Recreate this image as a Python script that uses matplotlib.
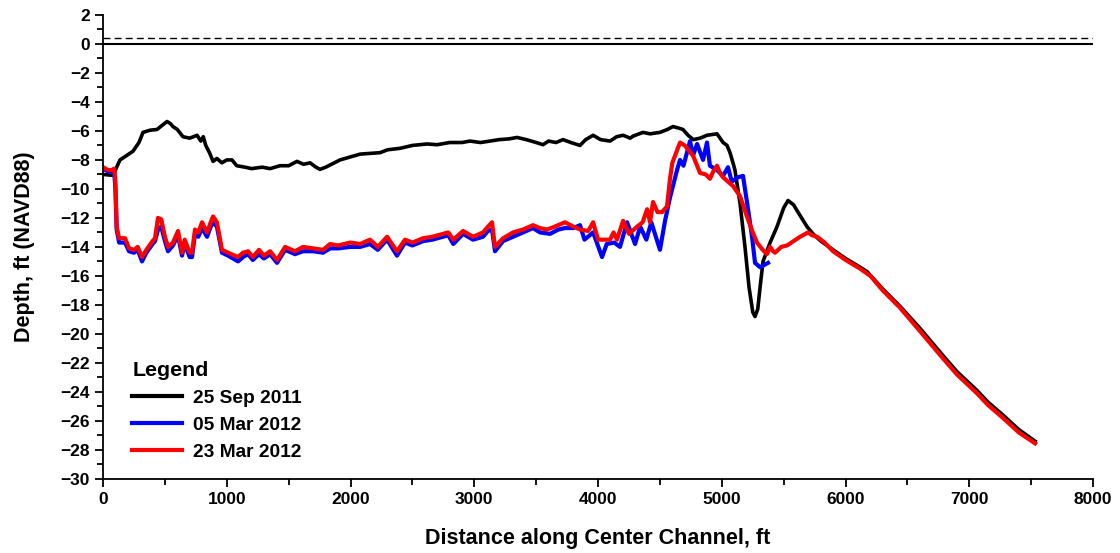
import matplotlib
matplotlib.use("Agg")
import matplotlib.pyplot as plt
from matplotlib.ticker import MultipleLocator

plt.rcParams['font.family'] = ['Liberation Sans', 'DejaVu Sans']
plt.rcParams['font.weight'] = 'bold'

# survey profiles along the center channel (distance ft, depth ft NAVD88)
sep2011_x = [0, 60, 81, 110, 137, 190, 242, 290, 323, 380, 436, 480, 517, 545, 565, 600,
             646, 700, 760, 790, 810, 830, 860, 889, 920, 960, 1000, 1042, 1080, 1147,
             1200, 1285, 1350, 1430, 1500, 1567, 1620, 1673, 1720, 1753, 1800, 1915,
             1996, 2077, 2157, 2238, 2300, 2400, 2500, 2618, 2700, 2800, 2900, 2965,
             3050, 3127, 3200, 3280, 3345, 3420, 3500, 3555, 3600, 3660, 3717, 3780,
             3854, 3900, 3960, 4020, 4097, 4150, 4202, 4260, 4282, 4363, 4420, 4500,
             4560, 4605, 4650, 4686, 4727, 4770, 4824, 4880, 4961, 5010, 5042, 5066,
             5090, 5106, 5147, 5187, 5220, 5250, 5268, 5290, 5310, 5333, 5390, 5446,
             5500, 5535, 5580, 5608, 5688, 5737, 5800, 5899, 6000, 6117, 6173, 6300,
             6440, 6600, 6788, 6900, 7062, 7150, 7272, 7400, 7531]
sep2011_y = [-9.0, -9.05, -9.05, -8.5, -8.0, -7.7, -7.4, -6.8, -6.1, -5.95, -5.9, -5.6,
             -5.35, -5.5, -5.7, -5.9, -6.4, -6.5, -6.3, -6.7, -6.4, -7.0, -7.5, -8.1,
             -7.9, -8.2, -8.0, -8.0, -8.4, -8.5, -8.6, -8.5, -8.6, -8.4, -8.4, -8.1,
             -8.3, -8.2, -8.5, -8.65, -8.5, -8.0, -7.8, -7.6, -7.55, -7.5, -7.3, -7.2,
             -7.0, -6.9, -6.95, -6.8, -6.8, -6.7, -6.8, -6.7, -6.6, -6.55, -6.45, -6.6,
             -6.8, -6.95, -6.7, -6.8, -6.6, -6.8, -7.0, -6.6, -6.3, -6.6, -6.7, -6.4,
             -6.3, -6.5, -6.36, -6.1, -6.2, -6.1, -5.9, -5.7, -5.8, -5.9, -6.3, -6.6,
             -6.5, -6.3, -6.2, -6.8, -7.0, -7.5, -8.2, -8.7, -11.0, -14.0, -16.8, -18.5,
             -18.8, -18.3, -16.7, -15.0, -13.7, -12.6, -11.3, -10.8, -11.1, -11.5,
             -12.6, -13.1, -13.6, -14.2, -14.8, -15.4, -15.7, -16.9, -18.1, -19.6,
             -21.5, -22.6, -23.9, -24.7, -25.6, -26.6, -27.4]

mar05_x = [0, 40, 70, 90, 100, 110, 130, 178, 210, 250, 280, 315, 350, 400, 420, 444,
           470, 500, 525, 565, 606, 638, 660, 700, 719, 743, 770, 800, 840, 870, 889,
           920, 961, 1010, 1091, 1130, 1172, 1210, 1260, 1300, 1350, 1406, 1471, 1551,
           1616, 1700, 1778, 1834, 1900, 1996, 2077, 2157, 2220, 2295, 2375, 2440,
           2500, 2586, 2660, 2747, 2790, 2830, 2909, 2990, 3070, 3110, 3143, 3167,
           3232, 3313, 3394, 3474, 3530, 3612, 3680, 3733, 3800, 3854, 3890, 3960,
           4032, 4070, 4130, 4177, 4234, 4299, 4340, 4390, 4430, 4500, 4541, 4581,
           4638, 4662, 4690, 4743, 4767, 4800, 4848, 4880, 4904, 4961, 5010, 5050,
           5080, 5130, 5171, 5203, 5244, 5268, 5309, 5373]
mar05_y = [-8.6, -8.8, -8.8, -8.8, -10.0, -12.8, -13.7, -13.7, -14.3, -14.4, -14.2,
           -15.0, -14.4, -13.8, -13.6, -12.8, -12.6, -13.6, -14.3, -13.9, -13.2, -14.6,
           -13.8, -14.7, -14.7, -13.1, -13.3, -12.7, -13.3, -12.6, -12.3, -12.6, -14.4,
           -14.6, -15.0, -14.7, -14.5, -14.9, -14.5, -14.8, -14.5, -15.1, -14.2, -14.5,
           -14.3, -14.3, -14.4, -14.1, -14.1, -14.0, -14.0, -13.8, -14.2, -13.5, -14.6,
           -13.7, -13.9, -13.6, -13.5, -13.3, -13.2, -13.8, -13.1, -13.5, -13.3, -12.9,
           -12.8, -14.3, -13.6, -13.3, -13.0, -12.7, -13.0, -13.1, -12.8, -12.7, -12.7,
           -12.5, -13.5, -13.0, -14.7, -13.8, -13.7, -14.0, -12.3, -13.8, -12.6, -13.5,
           -12.3, -14.2, -12.2, -10.6, -8.7, -8.0, -8.4, -6.7, -7.7, -6.9, -8.0, -6.8,
           -8.4, -8.7, -9.1, -8.5, -9.5, -9.2, -9.1, -10.9, -13.3, -15.1, -15.4, -15.1]

mar23_x = [0, 40, 70, 90, 100, 110, 130, 178, 210, 250, 280, 315, 350, 400, 420, 444,
           470, 500, 525, 565, 606, 638, 660, 700, 719, 743, 770, 800, 840, 870, 889,
           920, 961, 1010, 1091, 1130, 1172, 1210, 1260, 1300, 1350, 1406, 1471, 1551,
           1616, 1700, 1778, 1834, 1900, 1996, 2077, 2157, 2220, 2295, 2375, 2440,
           2500, 2586, 2660, 2747, 2790, 2830, 2909, 2990, 3070, 3110, 3143, 3167,
           3232, 3313, 3394, 3474, 3530, 3588, 3650, 3733, 3800, 3854, 3920, 3960,
           4000, 4097, 4125, 4153, 4202, 4250, 4315, 4360, 4396, 4420, 4444, 4480,
           4517, 4557, 4581, 4600, 4622, 4662, 4700, 4767, 4824, 4870, 4904, 4930,
           4961, 4985, 5010, 5050, 5090, 5147, 5203, 5250, 5284, 5330, 5365, 5390,
           5414, 5430, 5480, 5527, 5580, 5632, 5697, 5730, 5769, 5830, 5899, 6000,
           6117, 6200, 6300, 6440, 6600, 6788, 6900, 7062, 7150, 7272, 7400, 7531]
mar23_y = [-8.5, -8.7, -8.7, -8.6, -9.5, -12.6, -13.4, -13.4, -14.1, -14.2, -14.0,
           -14.7, -14.2, -13.6, -13.4, -12.0, -12.1, -13.3, -14.0, -13.7, -12.9, -14.4,
           -13.5, -14.4, -14.4, -12.8, -13.0, -12.3, -13.0, -12.3, -11.9, -12.3, -14.2,
           -14.4, -14.7, -14.4, -14.3, -14.7, -14.2, -14.6, -14.3, -14.9, -14.0, -14.3,
           -14.0, -14.1, -14.2, -13.8, -13.9, -13.7, -13.8, -13.5, -14.0, -13.3, -14.3,
           -13.5, -13.7, -13.4, -13.3, -13.1, -13.0, -13.5, -12.9, -13.3, -13.0, -12.6,
           -12.3, -14.0, -13.4, -13.0, -12.8, -12.5, -12.7, -12.8, -12.6, -12.3, -12.6,
           -12.8, -12.9, -12.3, -13.5, -13.5, -13.0, -13.5, -12.2, -13.1, -12.6, -12.3,
           -11.4, -12.3, -10.9, -11.6, -11.6, -11.2, -9.3, -8.2, -7.7, -6.8, -7.0, -7.7,
           -8.9, -9.0, -9.3, -8.8, -8.4, -8.9, -9.2, -9.5, -9.8, -10.5, -11.9, -13.0,
           -13.7, -14.2, -14.5, -14.0, -14.3, -14.4, -14.0, -13.9, -13.6, -13.3, -13.0,
           -13.2, -13.3, -13.7, -14.3, -14.9, -15.5, -16.0, -17.0, -18.2, -19.8, -21.7,
           -22.8, -24.1, -24.9, -25.8, -26.8, -27.55]

labels = ['25 Sep 2011', '05 Mar 2012', '23 Mar 2012']

fig = plt.figure(figsize=(11.2, 5.53), dpi=100)
ax = fig.add_axes([0.092, 0.134, 0.884, 0.839])

ax.axhline(0, color='black', lw=1.5)
ax.axhline(0.42, color='black', lw=1.0, ls=(0, (5, 3)))

ax.plot(sep2011_x, sep2011_y, color='black', lw=2.6, label=labels[0])
ax.plot(mar05_x, mar05_y, color='blue', lw=3.0, label=labels[1])
ax.plot(mar23_x, mar23_y, color='red', lw=3.0, label=labels[2])

ax.set_xlim(0, 8000)
ax.set_ylim(-30, 2)
ax.xaxis.set_major_locator(MultipleLocator(1000))
ax.xaxis.set_minor_locator(MultipleLocator(500))
ax.yaxis.set_major_locator(MultipleLocator(2))
ax.yaxis.set_minor_locator(MultipleLocator(1))
ax.tick_params(which='major', length=6, width=1.3, labelsize=12.5)
ax.tick_params(which='minor', length=4, width=1.3)
for side in ['top', 'right']:
    ax.spines[side].set_visible(False)
for side in ['left', 'bottom']:
    ax.spines[side].set_linewidth(1.3)

ax.set_xlabel('Distance along Center Channel, ft', fontsize=15.5, fontweight='bold', labelpad=15)
ax.set_ylabel('Depth, ft (NAVD88)', fontsize=15.5, fontweight='bold', labelpad=18)

leg = ax.legend(loc='upper left', bbox_to_anchor=(0.012, 0.292), frameon=False,
                title='Legend', fontsize=13.8, handlelength=2.6, handletextpad=0.55,
                labelspacing=0.5, alignment='left')
leg.get_title().set_fontsize(15.4)
leg.get_title().set_fontweight('bold')
for line in leg.get_lines():
    line.set_linewidth(3)

fig.savefig('out.png', dpi=100)
